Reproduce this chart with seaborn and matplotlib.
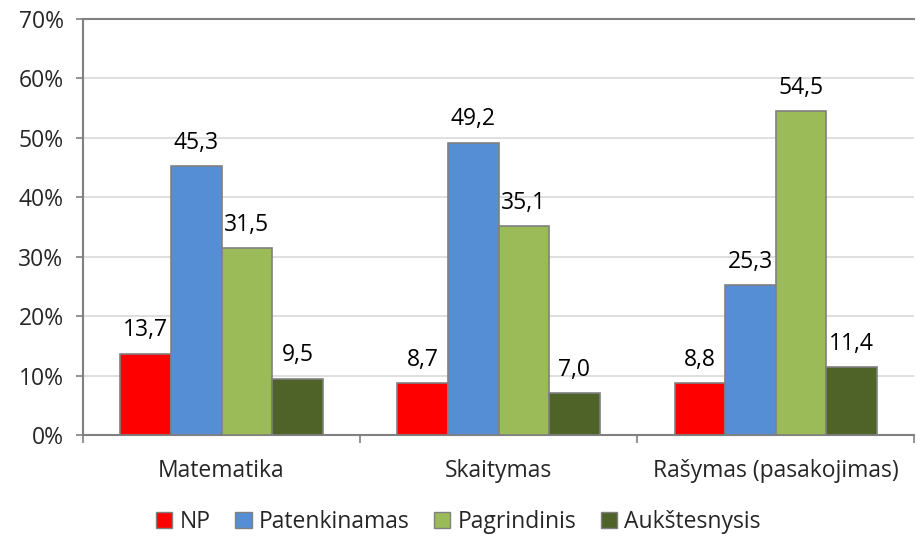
import pandas as pd
import numpy as np
import seaborn as sns
import matplotlib.pyplot as plt
from matplotlib.patches import Patch

categories = ['Matematika', 'Skaitymas', 'Rašymas (pasakojimas)']
levels = ['NP', 'Patenkinamas', 'Pagrindinis', 'Aukštesnysis']
np_vals = [13.7, 8.7, 8.8]
patenkinamas = [45.3, 49.2, 25.3]
pagrindinis = [31.5, 35.1, 54.5]
aukstesnysis = [9.5, 7.0, 11.4]
colors = ['#FF0000', '#558ED5', '#9BBB59', '#4F6228']

rows = []
for lvl, vals in zip(levels, [np_vals, patenkinamas, pagrindinis, aukstesnysis]):
    for cat, v in zip(categories, vals):
        rows.append({'category': cat, 'level': lvl, 'value': v})
df = pd.DataFrame(rows)

sns.set_style('white')
plt.rcParams['font.family'] = ['Open Sans', 'DejaVu Sans']
fs = 16.5

fig, ax = plt.subplots(figsize=(9.17, 5.37), dpi=100)
fig.subplots_adjust(left=0.0905, right=0.997, top=0.9646, bottom=0.19)

sns.barplot(data=df, x='category', y='value', hue='level', order=categories,
            hue_order=levels, palette=colors, width=0.73, edgecolor='#808080',
            linewidth=1.2, saturation=1, legend=False, ax=ax, zorder=3)

# value labels with comma decimals
for container in ax.containers:
    labels = [f'{b.get_height():.1f}'.replace('.', ',') for b in container]
    ax.bar_label(container, labels=labels, padding=8, fontsize=fs, color='black')

ax.set_ylim(0, 70)
ax.set_xlim(-0.5, 2.5)
ax.set_yticks(np.arange(0, 71, 10))
ax.set_yticklabels([f'{v}%' for v in range(0, 71, 10)], fontsize=fs)
ax.yaxis.grid(True, color='#D9D9D9', linewidth=1.2, zorder=0)
ax.set_axisbelow(True)

# category labels on minor ticks, tick marks at group boundaries
ax.set_xticks([-0.5, 0.5, 1.5, 2.5])
ax.set_xticklabels([])
ax.set_xticks([0, 1, 2], minor=True)
ax.set_xticklabels(categories, minor=True, fontsize=fs)
ax.tick_params(axis='x', which='minor', length=0, pad=17)
ax.tick_params(axis='x', which='major', length=6, width=1.2, color='#808080', direction='out', bottom=True)
ax.tick_params(axis='y', length=5, width=1.2, color='#808080', direction='out', left=True, pad=9)

ax.set_xlabel('')
ax.set_ylabel('')
for side in ['left', 'bottom', 'top']:
    ax.spines[side].set_color('#808080')
    ax.spines[side].set_linewidth(1.5)
ax.spines['right'].set_visible(False)

handles = [Patch(facecolor=c, edgecolor='#808080', label=l) for c, l in zip(colors, levels)]
fig.legend(handles=handles, loc='center', bbox_to_anchor=(0.5, 0.028), ncol=4,
           frameon=False, fontsize=fs, handlelength=0.7, handleheight=0.7,
           handletextpad=0.3, columnspacing=1.1, borderpad=0)

fig.savefig('out.png', dpi=100)
